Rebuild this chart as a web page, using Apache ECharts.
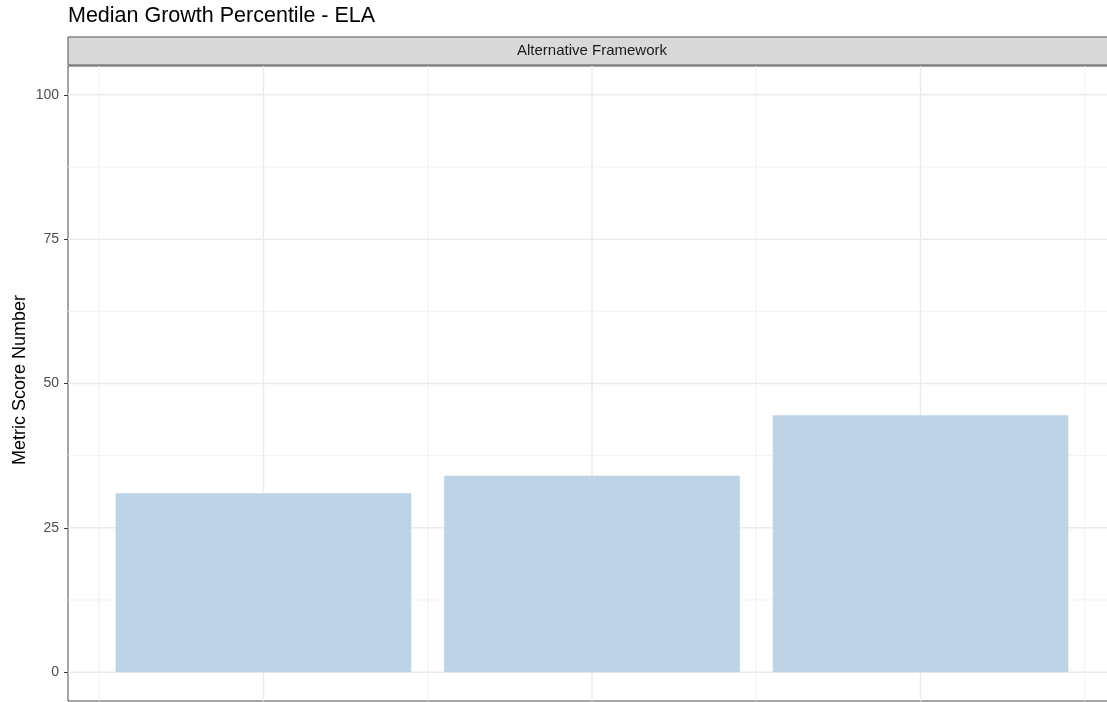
<!DOCTYPE html>
<html><head><meta charset="utf-8">
<script src="https://cdn.jsdelivr.net/npm/echarts@6/dist/echarts.min.js"></script>
<style>html,body{margin:0;padding:0;background:#fff;overflow:hidden}#c{width:1107px;height:702px}</style>
</head><body><div id="c"></div>
<script>
// ---- data ----
const chartTitle = 'Median Growth Percentile - ELA';
const facetLabel = 'Alternative Framework';
const yAxisTitle = 'Metric Score Number';
const xValues = [1, 2, 3];
const metricScores = [31.0, 34.0, 44.5];
const yLimits = [0, 100];
const yTicks = [0, 25, 50, 75, 100];
const yMinorGrid = [12.5, 37.5, 62.5, 87.5];
const xMajorGrid = [1, 2, 3];
const xMinorGrid = [0.5, 1.5, 2.5, 3.5];
const barWidthUnits = 0.9;

// ---- scales (ggplot-like 5% expansion) ----
const xLo = Math.min(...xValues) - barWidthUnits / 2;
const xHi = Math.max(...xValues) + barWidthUnits / 2;
const xPad = 0.05 * (xHi - xLo);
const xMin = xLo - xPad, xMax = xHi + xPad;
const yPad = 0.05 * (yLimits[1] - yLimits[0]);
const yMin = yLimits[0] - yPad, yMax = yLimits[1] + yPad;
const xMid = (xMin + xMax) / 2, yMid = (yMin + yMax) / 2;

const GRID = {left: 68, top: 66, width: 1048, height: 635};
const FONT = '"Liberation Sans", Arial, sans-serif';

function hLine(color, width) {
  return function (params, api) {
    const cs = params.coordSys;
    const y = api.coord([xMid, api.value(1)])[1];
    return {type: 'line', shape: {x1: cs.x, y1: y, x2: cs.x + cs.width, y2: y},
      style: {stroke: color, lineWidth: width}, silent: true};
  };
}
function vLine(color, width) {
  return function (params, api) {
    const cs = params.coordSys;
    const x = api.coord([api.value(0), yMid])[0];
    return {type: 'line', shape: {x1: x, y1: cs.y, x2: x, y2: cs.y + cs.height},
      style: {stroke: color, lineWidth: width}, silent: true};
  };
}

const chart = echarts.init(document.getElementById('c'), null, {renderer: 'canvas'});
chart.setOption({
  animation: false,
  backgroundColor: '#ffffff',
  textStyle: {fontFamily: FONT},
  title: {text: chartTitle, left: 68, top: 5, padding: 0,
    textStyle: {fontSize: 21.5, fontWeight: 'normal', color: '#000', fontFamily: FONT}},
  grid: Object.assign({show: true, borderColor: '#4d4d4d', borderWidth: 1, backgroundColor: 'transparent',
    outerBoundsMode: 'none', containLabel: false}, GRID),
  xAxis: {type: 'value', min: xMin, max: xMax,
    axisLine: {show: false}, axisTick: {show: false}, axisLabel: {show: false}, splitLine: {show: false}},
  yAxis: {type: 'value', min: yMin, max: yMax,
    axisLine: {show: false}, splitLine: {show: false},
    axisTick: {show: true, customValues: yTicks, length: 4, lineStyle: {color: '#333'}},
    axisLabel: {customValues: yTicks, color: '#4d4d4d', fontSize: 14, margin: 9, fontFamily: FONT}},
  graphic: [
    {type: 'rect', shape: {x: GRID.left, y: 37, width: GRID.width, height: 28},
      style: {fill: '#d9d9d9', stroke: '#555', lineWidth: 1}, z: 10},
    {type: 'text', x: GRID.left + GRID.width / 2, y: 51,
      style: {text: facetLabel, fill: '#1a1a1a', font: '15px ' + FONT, align: 'center', verticalAlign: 'middle'}, z: 11},
    {type: 'text', x: 20, y: 380, rotation: Math.PI / 2,
      style: {text: yAxisTitle, fill: '#000', font: '18px ' + FONT, align: 'center', verticalAlign: 'middle'}, z: 11}
  ],
  series: [
    {type: 'custom', z: 1, silent: true, renderItem: hLine('#f2f2f2', 1),
      data: yMinorGrid.map(v => [xMid, v])},
    {type: 'custom', z: 1, silent: true, renderItem: vLine('#f2f2f2', 1),
      data: xMinorGrid.map(v => [v, yMid])},
    {type: 'custom', z: 1, silent: true, renderItem: hLine('#ebebeb', 1.5),
      data: yTicks.map(v => [xMid, v])},
    {type: 'custom', z: 1, silent: true, renderItem: vLine('#ebebeb', 1.5),
      data: xMajorGrid.map(v => [v, yMid])},
    {type: 'custom', z: 3, silent: true,
      renderItem: function (params, api) {
        const x = api.value(0), y = api.value(1);
        const p1 = api.coord([x - barWidthUnits / 2, y]);
        const p2 = api.coord([x + barWidthUnits / 2, 0]);
        return {type: 'rect', shape: {x: p1[0], y: p1[1], width: p2[0] - p1[0], height: p2[1] - p1[1]},
          style: {fill: '#bfd3e6'}};
      },
      data: xValues.map((x, i) => [x, metricScores[i]])}
  ]
});
</script></body></html>
